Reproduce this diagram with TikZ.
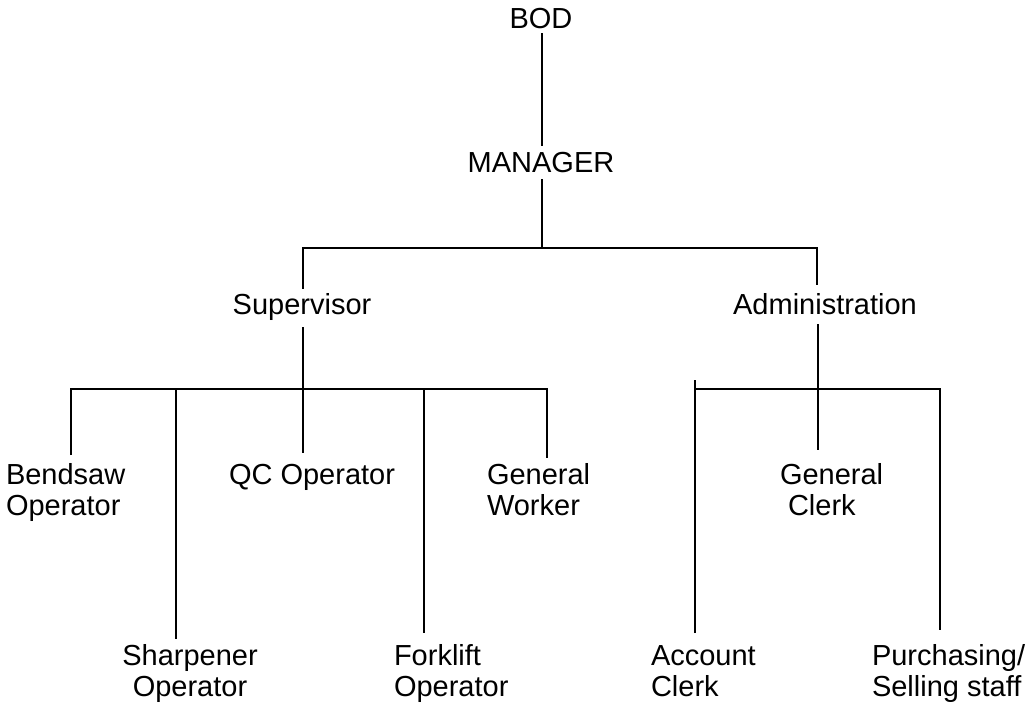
\documentclass[tikz,border=0pt]{standalone}
\usepackage{fontspec}
\setmainfont{Liberation Sans}
% uniform first-line height, so every label top sits 22pt above its baseline
\newcommand\capstrut{\rule{0pt}{22pt}}
\begin{document}
\begin{tikzpicture}[x=1pt,y=-1pt,
  every node/.style={inner sep=0pt, outer sep=0pt, font=\fontsize{29}{31}\selectfont},
  title/.style={anchor=base},
  label/.style={anchor=north west, align=left},
  clabel/.style={anchor=north, align=center},
  wire/.style={line width=2pt, line cap=butt, line join=miter}]
\path[use as bounding box] (0,0) rectangle (1033,703);

% positions
\node[title] (bod) at (541,29) {BOD};
\node[title] (mgr) at (541,173) {MANAGER};
\node[title] (sup) at (302,314) {Supervisor};
\node[title] (adm) at (825,314) {Administration};
\node[title] (qc) at (312,484) {QC Operator};
\node[label] (bend) at (6,462) {\capstrut Bendsaw\\Operator};
\node[label] (gw) at (487,462) {\capstrut General\\Worker};
\node[label] (gc) at (780,462) {\capstrut General\\\hspace*{8pt}Clerk};
\node[clabel] (sharp) at (190,643) {\capstrut Sharpener\\Operator};
\node[label] (fork) at (394,643) {\capstrut Forklift\\Operator};
\node[label] (acc) at (651,643) {\capstrut Account\\Clerk};
\node[label] (pur) at (872,643) {\capstrut Purchasing/\\Selling staff};

% bus junctions
\coordinate (topbus) at (542,248);
\coordinate (supdrop) at (303,248);
\coordinate (admdrop) at (817,248);
\coordinate (lbus) at (303,389);
\coordinate (bendx) at (71,389);
\coordinate (sharpx) at (176,389);
\coordinate (forkx) at (424,389);
\coordinate (gwx) at (547,389);
\coordinate (accx) at (695,389);
\coordinate (acctop) at (695,380);
\coordinate (admx) at (818,389);
\coordinate (purx) at (940,389);

% top of the chart
\draw[wire, shorten <=4pt, shorten >=7pt] (bod.south -| topbus) -- (mgr.north -| topbus);
\draw[wire, shorten <=6pt] (mgr.south -| topbus) -- (topbus);
\draw[wire, shorten <=4pt, shorten >=8pt] (sup.north -| supdrop) -- (supdrop) -- (admdrop) -- (adm.north -| admdrop);

% production side
\draw[wire, shorten <=7pt, shorten >=11pt] (sup.south -| lbus) -- (qc.north -| lbus);
\draw[wire, shorten <=7pt, shorten >=4pt] (bend.north -| bendx) -- (bendx) -- (gwx) -- (gw.north -| gwx);
\draw[wire, shorten >=4pt] (sharpx) -- (sharpx |- sharp.north);
\draw[wire, shorten >=10pt] (forkx) -- (forkx |- fork.north);

% administration side
\draw[wire, shorten <=10pt, shorten >=12pt] (adm.south -| admx) -- (gc.north -| admx);
\draw[wire, shorten <=10pt] (acc.north -| accx) -- (acctop);
\draw[wire, shorten >=13pt] (accx) -- (purx) -- (purx |- pur.north);
\end{tikzpicture}
\end{document}
